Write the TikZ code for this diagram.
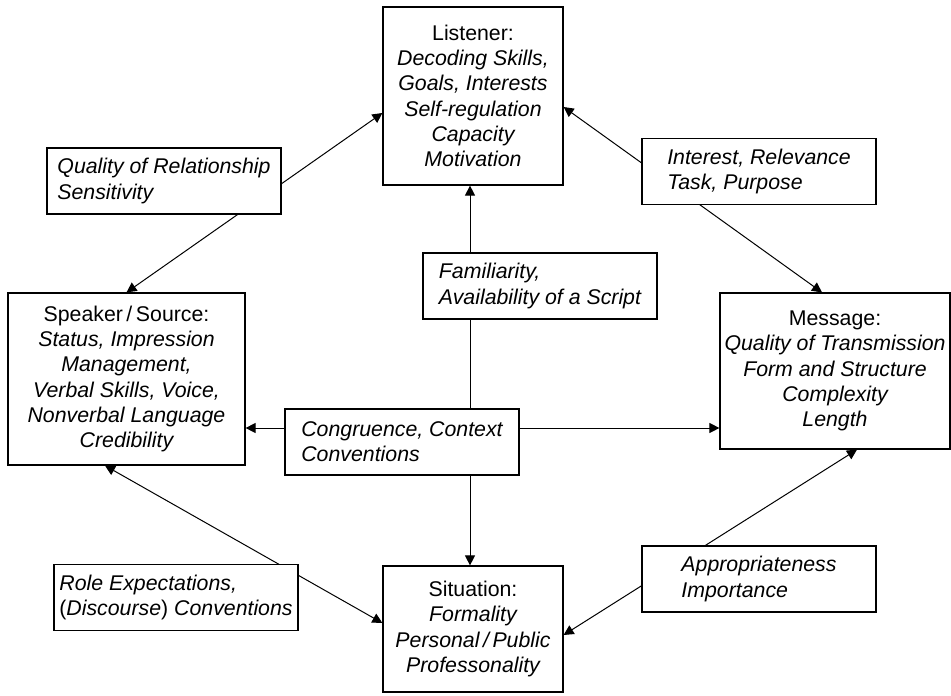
\documentclass[tikz,border=0pt]{standalone}
\usepackage{fontspec}
\setmainfont{Liberation Sans}
\usetikzlibrary{arrows.meta,positioning}

\begin{document}
\begin{tikzpicture}[
  x=0.5pt, y=-0.5pt,
  box/.style={draw, line width=0.6pt, align=center, inner sep=1pt,
              font=\fontsize{10.65pt}{12.65pt}\selectfont\itshape},
  lbl/.style={draw, fill=white, line width=0.6pt, align=left, inner sep=1pt,
              minimum width=117pt, minimum height=33pt,
              font=\fontsize{10.65pt}{12.65pt}\selectfont\itshape},
  both/.style={{Triangle[length=5pt,width=5pt]}-{Triangle[length=5pt,width=5pt]},
               line width=0.5pt},
]
\useasboundingbox (0,0) rectangle (951,695);

% ---------- Main boxes ----------
\node[box, minimum width=90pt, minimum height=89pt] (listener) at (473,96)
  {\textup{Listener:}\\Decoding Skills,\\Goals, Interests\\Self-regulation\\Capacity\\Motivation};
\node[box, minimum width=118.5pt, minimum height=86pt] (speaker) at (126.5,379)
  {\textup{Speaker\,/\,Source:}\\Status, Impression\\Management,\\Verbal Skills, Voice,\\Nonverbal Language\\Credibility};
\node[box, minimum width=115pt, minimum height=78pt] (message) at (835,371)
  {\textup{Message:}\\Quality of Transmission\\Form and Structure\\Complexity\\Length};
\node[box, minimum width=90pt, minimum height=63pt] (situation) at (473,629)
  {\textup{Situation:}\\Formality\\Personal\,/\,Public\\Professonality};

% ---------- Connectors ----------
\draw[both] (speaker.north) -- ([yshift=-8.5pt]listener.west);
\draw[both] ([yshift=-5.5pt]listener.east) -- ([xshift=-6.5pt]message.north);
\draw[both] ([xshift=-10.75pt]speaker.south) -- ([yshift=3pt]situation.west);
\draw[both] ([xshift=11pt]message.south) -- ([yshift=-3pt]situation.east);
\draw[both] ([xshift=-1.5pt]listener.south) -- ([xshift=-1.5pt]situation.north);
\draw[both] ([yshift=-24.5pt]speaker.east) -- ([yshift=-24.5pt]speaker.east -| message.west);

% ---------- Labels on the connectors ----------
\node[lbl] (qual) at (164,181) {Quality of Relationship\\Sensitivity};
\node[lbl] (interest) at (759,171.5) {Interest, Relevance\\Task, Purpose};
\node[lbl] (famil) at (540,286) {Familiarity,\\Availability of a Script};
\node[lbl] (congr) at (402,442) {Congruence, Context\\Conventions};
\node[lbl, minimum width=122pt] (role) at (176,597.5)
  {Role Expectations,\\\textup{(}Discourse\textup{)} Conventions};
\node[lbl] (approp) at (759,579) {Appropriateness\\Importance};

\end{tikzpicture}
\end{document}
